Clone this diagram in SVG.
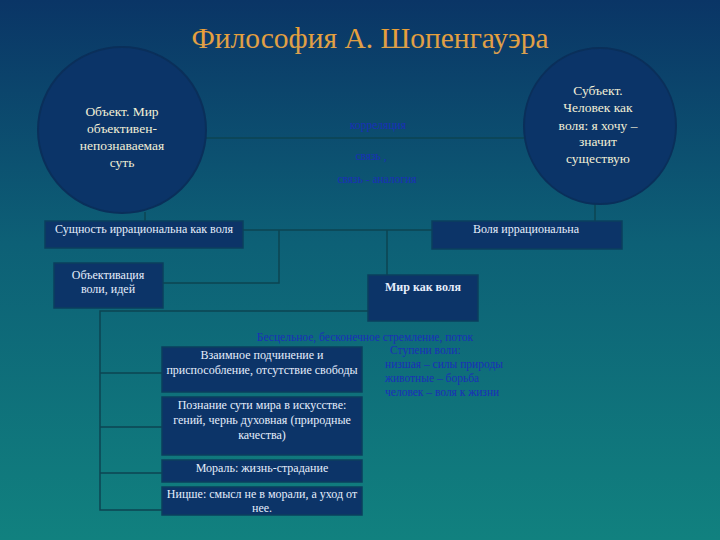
<svg xmlns="http://www.w3.org/2000/svg" width="720" height="540" viewBox="0 0 720 540">
<defs>
<linearGradient id="bg" x1="0" y1="0" x2="0" y2="1">
<stop offset="0" stop-color="#0a3566"/>
<stop offset="0.45" stop-color="#0d6076"/>
<stop offset="1" stop-color="#11817f"/>
</linearGradient>
<linearGradient id="tg" x1="0" y1="0" x2="0" y2="1">
<stop offset="0" stop-color="#f0a030"/>
<stop offset="1" stop-color="#d8a050"/>
</linearGradient>
<style>
text{font-family:"Liberation Serif","Times New Roman","DejaVu Serif",serif}
.circ{fill:#0b3468;stroke:#0a2f5a;stroke-width:2}
.box{fill:#0c3468;stroke:#0b3f5e;stroke-width:1.5}
.ct{font-size:13.5px;fill:#f2efd6;text-anchor:middle}
.bt{font-size:12px;fill:#e6eefc;text-anchor:middle}
.blue{font-size:11.5px;fill:#1b2fb8}
.ln{stroke:#0c4452;stroke-width:1.5;fill:none}
</style>
</defs>
<rect width="720" height="540" fill="url(#bg)"/>
<text x="370" y="48" font-size="29.5" fill="url(#tg)" text-anchor="middle">Философия А. Шопенгауэра</text>

<g id="connectors">
<line class="ln" x1="206" y1="138" x2="524" y2="138"/>
<line class="ln" x1="145" y1="212" x2="145" y2="221"/>
<line class="ln" x1="595" y1="204" x2="595" y2="221"/>
<line class="ln" x1="243" y1="230" x2="432" y2="230"/>
<polyline class="ln" points="279,230 279,283 163,283"/>
<line class="ln" x1="387" y1="230" x2="387" y2="275"/>
<polyline class="ln" points="368,311 100,311 100,510 162,510"/>
<line class="ln" x1="100" y1="373" x2="162" y2="373"/>
<line class="ln" x1="100" y1="427" x2="162" y2="427"/>
<line class="ln" x1="100" y1="473" x2="162" y2="473"/>
</g>

<g id="object">
<ellipse class="circ" cx="122" cy="130" rx="84" ry="83"/>
<text class="ct" x="122" y="116">Объект. Мир</text>
<text class="ct" x="122" y="133">объективен-</text>
<text class="ct" x="122" y="150">непознаваемая</text>
<text class="ct" x="122" y="167">суть</text>
</g>

<g id="subject">
<ellipse class="circ" cx="600" cy="126" rx="76" ry="78"/>
<text class="ct" x="598" y="95">Субъект.</text>
<text class="ct" x="598" y="112">Человек как</text>
<text class="ct" x="598" y="130">воля: я хочу –</text>
<text class="ct" x="598" y="146">значит</text>
<text class="ct" x="598" y="163">существую</text>
</g>

<g id="links">
<text class="blue" x="378" y="129" text-anchor="middle">корреляция</text>
<text class="blue" x="371" y="160" text-anchor="middle">связь ,</text>
<text class="blue" x="377" y="183" text-anchor="middle">связь - аналогия</text>
</g>

<g id="essence">
<rect class="box" x="45" y="221" width="198" height="27"/>
<text class="bt" x="144" y="233">Сущность иррациональна как воля</text>
</g>

<g id="will">
<rect class="box" x="432" y="221" width="190" height="28"/>
<text class="bt" x="526" y="233">Воля иррациональна</text>
</g>

<g id="objectivation">
<rect class="box" x="54" y="263" width="109" height="45"/>
<text class="bt" x="108" y="279">Объективация</text>
<text class="bt" x="108" y="293">воли, идей</text>
</g>

<g id="world">
<rect class="box" x="368" y="275" width="110" height="46"/>
<text class="bt" x="423" y="291" font-weight="bold">Мир как воля</text>
</g>

<g id="stream">
<text class="blue" x="365" y="341" text-anchor="middle">Бесцельное, бесконечное стремление, поток</text>
<text class="blue" x="390" y="354">Ступени воли:</text>
<text class="blue" x="385" y="368">низшая – силы природы</text>
<text class="blue" x="385" y="382">животные – борьба</text>
<text class="blue" x="385" y="396">человек – воля к жизни</text>
</g>

<g id="subordination">
<rect class="box" x="162" y="347" width="200" height="45"/>
<text class="bt" x="262" y="359">Взаимное подчинение и</text>
<text class="bt" x="262" y="374">приспособление, отсутствие свободы</text>
</g>

<g id="art">
<rect class="box" x="162" y="397" width="200" height="58"/>
<text class="bt" x="262" y="409">Познание сути мира в искусстве:</text>
<text class="bt" x="262" y="424">гений, чернь духовная (природные</text>
<text class="bt" x="262" y="439">качества)</text>
</g>

<g id="morality">
<rect class="box" x="162" y="460" width="200" height="22"/>
<text class="bt" x="262" y="472">Мораль: жизнь-страдание</text>
</g>

<g id="nietzsche">
<rect class="box" x="162" y="487" width="200" height="28"/>
<text class="bt" x="262" y="498">Ницше: смысл не в морали, а уход от</text>
<text class="bt" x="262" y="512">нее.</text>
</g>
</svg>
